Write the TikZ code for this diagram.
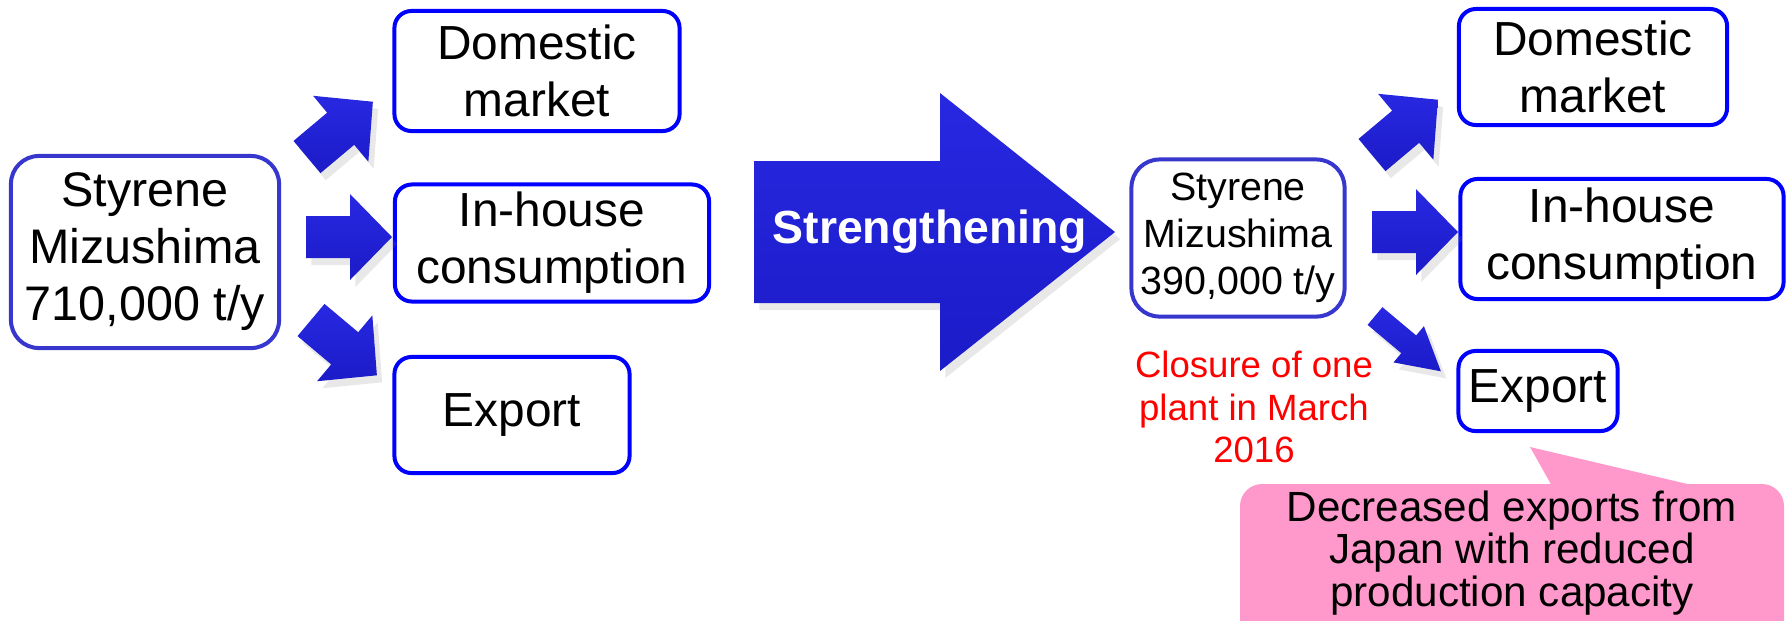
\documentclass[tikz,border=0pt]{standalone}
\usepackage{fontspec}
\setmainfont{Liberation Sans}
\usetikzlibrary{positioning,shadows}

\definecolor{boxblue}{RGB}{0,0,255}
\definecolor{plantblue}{RGB}{55,55,205}
\definecolor{arrowblue}{RGB}{27,27,200}
\definecolor{arrowlight}{RGB}{40,40,226}
\definecolor{calloutpink}{RGB}{255,153,204}
\definecolor{notered}{RGB}{255,0,0}

\begin{document}
\begin{tikzpicture}
		[x=0.01cm,y=-0.01cm,
		dest node/.style={draw=boxblue,line width=0.04cm,rounded corners=0.17cm,fill=white,align=center,inner sep=0pt,font=\fontsize{13.6}{16.2}\selectfont},
		plant node/.style={draw=plantblue,line width=0.04cm,rounded corners=0.28cm,fill=white,align=center,inner sep=0pt},
		arrow fill/.style={top color=arrowlight,bottom color=arrowblue,draw=none,drop shadow={opacity=0.18,shadow xshift=1.5pt,shadow yshift=-2pt}},
		pics/fatarrow/.style={code={\path[arrow fill] (0,-21) -- (44,-21) -- (44,-43) -- (86,0) -- (44,43) -- (44,21) -- (0,21) -- cycle;}}]
		\useasboundingbox (0,0) rectangle (1787,620);
		
		% before
		\node[plant node,minimum width=2.68cm,minimum height=1.92cm,font=\fontsize{13.8}{16.2}\selectfont] (plantL) at (145,252) {Styrene\\Mizushima\\710,000 t/y};
		\node[dest node,minimum width=2.85cm,minimum height=1.2cm] (domL) at (537,71) {Domestic\\market};
		\node[dest node,minimum width=3.14cm,minimum height=1.17cm] (houseL) at (552,243) {In-house\\consumption};
		\node[dest node,minimum width=2.35cm,minimum height=1.16cm] (expL) at (512,415) {Export};
		
		\pic[rotate=40] at (307,157) {fatarrow};
		\pic at (306,237) {fatarrow};
		\pic[rotate=-40] at (311,320) {fatarrow};
		
		% big arrow
		\path[arrow fill] (754,161) -- (940,161) -- (940,93) -- (1115,232) -- (940,371) -- (940,303) -- (754,303) -- cycle;
		\node[text=white,font=\bfseries\fontsize{13.2}{16}\selectfont] (strength) at (930,232) {Strengthening};
		
		% after
		\node[plant node,minimum width=2.13cm,minimum height=1.57cm,font=\fontsize{11.2}{13.4}\selectfont] (plantR) at (1238,238) {Styrene\\Mizushima\\390,000 t/y};
		\node[text=notered,align=center,font=\fontsize{10.4}{12.1}\selectfont] (closure) at (1254,407) {Closure of one\\plant in March\\2016};
		\node[dest node,minimum width=2.68cm,minimum height=1.16cm] (domR) at (1593,67) {Domestic\\market};
		\node[dest node,minimum width=3.23cm,minimum height=1.2cm] (houseR) at (1622,239) {In-house\\consumption};
		\node[dest node,minimum width=1.59cm,minimum height=0.8cm] (expR) at (1538,391) {Export};
		
		\pic[rotate=40] at (1372,155) {fatarrow};
		\pic at (1372,232) {fatarrow};
		\pic[rotate=-40,yscale=0.55] at (1375,316) {fatarrow};
		
		% callout
		\coordinate (calltip) at (1530,447);
		\begin{scope}
		\clip (0,0) rectangle (1787,620);
		\fill[calloutpink,rounded corners=0.22cm] (1240,484) rectangle (1784,680);
		\fill[calloutpink] (calltip) -- (1552,486) -- (1696,486) -- cycle;
		\end{scope}
		\node[align=center,font=\fontsize{12}{12.2}\selectfont] (callout) at (1512,553) {Decreased exports from\\Japan with reduced\\production capacity};
		\end{tikzpicture}
\end{document}
